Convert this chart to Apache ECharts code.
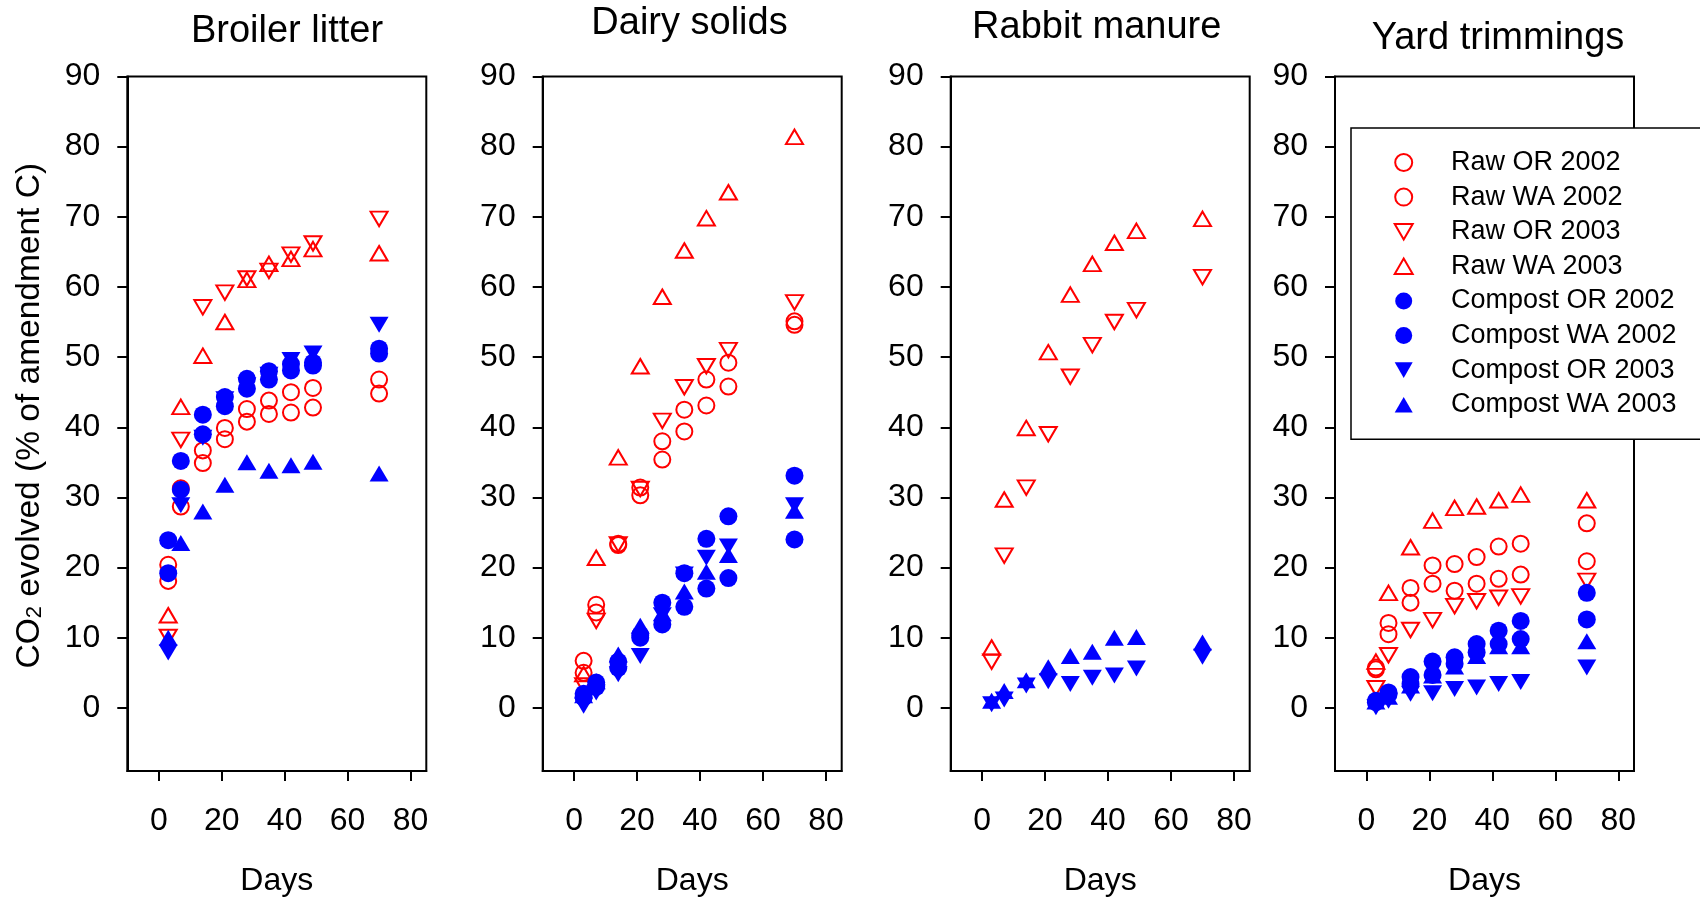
<!DOCTYPE html>
<html>
<head>
<meta charset="utf-8">
<script src="https://cdn.jsdelivr.net/npm/echarts@6/dist/echarts.min.js"></script>
<style>
html, body { margin: 0; padding: 0; background: #fff; }
#chart { width: 1700px; height: 902px; }
</style>
</head>
<body>
<div id="chart"></div>
<script>
// sampling days, shared by every panel
const days = [3, 7, 14, 21, 28, 35, 42, 49, 70];
const seriesNames = ['Raw OR 2002', 'Raw WA 2002', 'Raw OR 2003', 'Raw WA 2003',
    'Compost OR 2002', 'Compost WA 2002', 'Compost OR 2003', 'Compost WA 2003'];
const panelTitles = ['Broiler litter', 'Dairy solids', 'Rabbit manure', 'Yard trimmings'];
const xTicks = [0, 20, 40, 60, 80];
const yTicks = [0, 10, 20, 30, 40, 50, 60, 70, 80, 90];

// CO2 evolved (% of amendment C), one row per series (same order as seriesNames)
const broilerLitter = [
    [20.4, 31.3, 36.7, 39.9, 42.6, 43.8, 45.0, 45.6, 46.8],
    [18.1, 28.7, 34.9, 38.3, 40.8, 41.9, 42.1, 42.8, 44.8],
    [10.1, 38.2, 57.1, 59.2, 61.2, 62.3, 64.6, 66.2, 69.7],
    [13.2, 42.9, 50.2, 55.0, 61.0, 63.3, 64.0, 65.4, 64.8],
    [23.9, 35.2, 41.8, 44.3, 46.9, 48.0, 49.0, 49.2, 51.2],
    [19.2, 31.1, 39.0, 43.0, 45.5, 46.8, 48.1, 48.8, 50.5],
    [7.9, 28.9, 38.5, 44.0, 46.0, 47.5, 49.6, 50.5, 54.6],
    [10.0, 23.5, 28.0, 31.8, 35.0, 33.8, 34.6, 35.1, 33.4]
];
const dairySolids = [
    [6.7, 14.7, 23.4, 31.4, 38.0, 42.5, 46.8, 49.2, 55.1],
    [5.0, 13.6, 23.2, 30.3, 35.4, 39.4, 43.1, 45.8, 54.6],
    [3.2, 12.4, 23.3, 31.2, 40.9, 45.7, 48.7, 51.0, 57.8],
    [4.8, 21.4, 35.7, 48.7, 58.6, 65.2, 69.8, 73.5, 81.4],
    [2.0, 3.6, 6.6, 10.4, 15.0, 19.2, 24.1, 27.3, 33.1],
    [1.5, 3.0, 5.7, 10.0, 11.9, 14.4, 17.0, 18.5, 24.0],
    [0.3, 2.2, 4.8, 7.4, 13.2, 19.0, 21.4, 23.0, 28.9],
    [1.8, 3.8, 7.6, 11.7, 13.5, 16.6, 19.4, 21.8, 28.1]
];
const rabbitManure = [
    null,
    null,
    [6.6, 21.7, 31.4, 39.0, 47.2, 51.7, 55.0, 56.7, 61.4],
    [8.6, 29.7, 39.9, 50.7, 58.9, 63.3, 66.3, 68.0, 69.7],
    null,
    null,
    [0.5, 1.2, 3.2, 3.8, 3.4, 4.3, 4.6, 5.6, 7.3],
    [1.0, 2.4, 3.95, 5.8, 7.4, 8.0, 10.0, 10.1, 9.3]
];
const yardTrimmings = [
    [5.75, 12.1, 17.1, 20.3, 20.5, 21.5, 23.0, 23.4, 26.3],
    [5.5, 10.5, 15.0, 17.7, 16.7, 17.7, 18.4, 19.0, 20.9],
    [2.8, 7.5, 11.1, 12.5, 14.5, 15.2, 15.7, 15.9, 18.1],
    [6.6, 16.4, 22.9, 26.7, 28.5, 28.7, 29.6, 30.4, 29.6],
    [1.0, 2.2, 4.4, 6.6, 7.2, 9.1, 11.0, 12.4, 16.4],
    [0.8, 1.9, 3.4, 4.7, 6.3, 7.9, 9.1, 9.8, 12.6],
    [0.1, 1.0, 2.0, 2.1, 2.7, 2.9, 3.4, 3.7, 5.75],
    [0.9, 1.6, 3.2, 4.6, 5.9, 7.4, 8.8, 8.8, 9.5]
];
const panels = [broilerLitter, dairySolids, rabbitManure, yardTrimmings];

// layout
const FONT = 'Liberation Sans';
const gridLefts = [127.3, 542.7, 950.7, 1335];
const titleX = [287, 689.5, 1096.7, 1498];
const titleY = [31.7, 23.7, 27.2, 38.7];

const RED = '#ff0000', BLUE = '#0000ff';
const UP = 'path://M1,0L2,1.732L0,1.732Z';
const DOWN = 'path://M0,0L2,0L1,1.732Z';
// marker look per series
const markers = [
    { symbol: 'circle', rotate: 0, hollow: true, color: RED },
    { symbol: 'circle', rotate: 0, hollow: true, color: RED },
    { symbol: 'triangle', rotate: 180, hollow: true, color: RED },
    { symbol: 'triangle', rotate: 0, hollow: true, color: RED },
    { symbol: 'circle', rotate: 0, hollow: false, color: BLUE },
    { symbol: 'circle', rotate: 0, hollow: false, color: BLUE },
    { symbol: 'triangle', rotate: 180, hollow: false, color: BLUE },
    { symbol: 'triangle', rotate: 0, hollow: false, color: BLUE }
];

function symSize(m) {
    if (m.symbol === 'circle') return m.hollow ? 16 : 18;
    return m.hollow ? [17, 14.5] : [19, 16];
}

let grids = [], xAxes = [], yAxes = [], titles = [], series = [];
for (let p = 0; p < panels.length; p++) {
    grids.push({
        left: gridLefts[p], top: 76.5, width: 299, height: 696.8,
        show: true, borderColor: '#000', borderWidth: 2
    });
    titles.push({
        text: panelTitles[p], left: titleX[p], top: titleY[p], padding: 0,
        textAlign: 'center', textVerticalAlign: 'middle',
        textStyle: { fontFamily: FONT, fontSize: 38, fontWeight: 'normal', color: '#000' }
    });
    xAxes.push({
        gridIndex: p, type: 'value', min: -10, max: 85,
        axisLine: { show: true, onZero: false, lineStyle: { color: '#000', width: 2 } },
        axisTick: { show: true, length: 10, customValues: xTicks, lineStyle: { color: '#000', width: 2 } },
        axisLabel: { customValues: xTicks, fontFamily: FONT, fontSize: 32, color: '#000', margin: 50, verticalAlign: 'middle' },
        splitLine: { show: false },
        name: 'Days', nameLocation: 'middle', nameGap: 110,
        nameTextStyle: { fontFamily: FONT, fontSize: 32, color: '#000', verticalAlign: 'middle' }
    });
    let ya = {
        gridIndex: p, type: 'value', min: -9, max: 90,
        axisLine: { show: true, onZero: false, lineStyle: { color: '#000', width: 2 } },
        axisTick: { show: true, length: 10, customValues: yTicks, lineStyle: { color: '#000', width: 2 } },
        axisLabel: { customValues: yTicks, fontFamily: FONT, fontSize: 32, color: '#000', margin: 27 },
        splitLine: { show: false }
    };
    if (p === 0) {
        ya.name = '{a|CO}{b|2}{a| evolved (% of amendment C)}';
        ya.nameLocation = 'middle';
        ya.nameGap = 100;
        ya.nameTextStyle = {
            fontFamily: FONT, fontSize: 33.5, color: '#000', verticalAlign: 'middle',
            padding: [0, 0, 0, 16],
            rich: {
                a: { fontFamily: FONT, fontSize: 33.5, color: '#000', lineHeight: 38, verticalAlign: 'bottom' },
                b: { fontFamily: FONT, fontSize: 22, color: '#000', lineHeight: 15, verticalAlign: 'bottom' }
            }
        };
    }
    yAxes.push(ya);

    for (let s = 0; s < seriesNames.length; s++) {
        let vals = panels[p][s];
        if (!vals) continue;
        let m = markers[s];
        series.push({
            type: 'scatter',
            name: seriesNames[s],
            xAxisIndex: p, yAxisIndex: p,
            data: days.map((d, i) => [d, vals[i]]),
            symbol: m.symbol,
            symbolRotate: m.rotate,
            symbolSize: symSize(m),
            itemStyle: m.hollow
                ? { color: 'rgba(0,0,0,0)', borderColor: m.color, borderWidth: 2, opacity: 1 }
                : { color: m.color, borderWidth: 0, opacity: 1 },
            emphasis: { disabled: true }
        });
    }
}

// legend entries: triangle icons given explicitly so they keep their shape
let legendData = seriesNames.map((name, s) => {
    let m = markers[s];
    if (m.symbol === 'circle') return { name: name, icon: 'circle' };
    return { name: name, icon: m.rotate === 180 ? DOWN : UP };
});

let chart = echarts.init(document.getElementById('chart'));
chart.setOption({
    animation: false,
    backgroundColor: '#fff',
    title: titles,
    grid: grids,
    xAxis: xAxes,
    yAxis: yAxes,
    legend: {
        data: legendData,
        orient: 'vertical',
        left: 1351, top: 128,
        padding: [21, 100, 21, 42.7],
        itemWidth: 18, itemHeight: 17, itemGap: 7.6,
        symbolRotate: 0,
        backgroundColor: '#fff',
        borderColor: '#000', borderWidth: 1.5, borderRadius: 0,
        selectedMode: false,
        textStyle: { fontFamily: FONT, fontSize: 27, color: '#000', lineHeight: 27, padding: [0, 0, 0, 33.3] }
    },
    series: series
});
</script>
</body>
</html>
